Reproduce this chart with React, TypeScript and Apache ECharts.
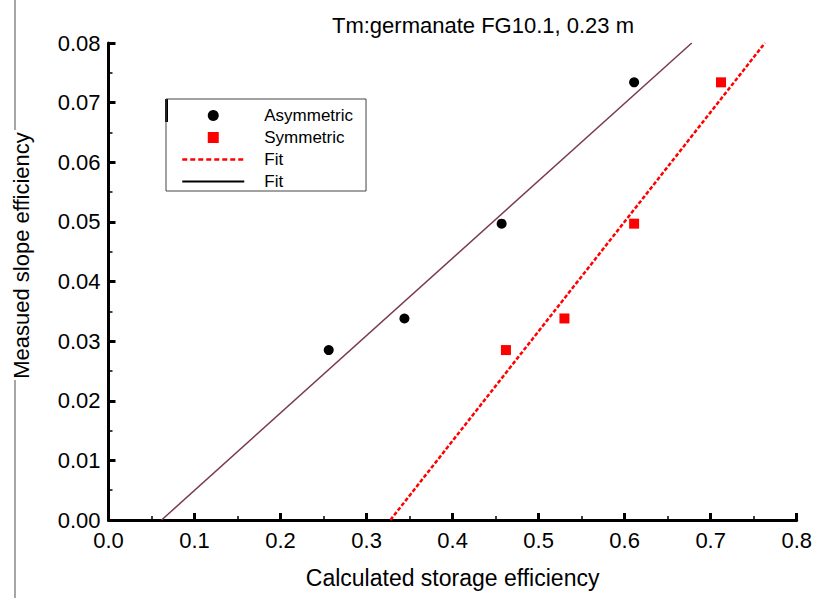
import React, { useEffect, useRef } from "react";
import * as echarts from "echarts";

const asymX = [0.256, 0.344, 0.457, 0.611];
const asymY = [0.0285, 0.0338, 0.0497, 0.0734];
const symX = [0.462, 0.53, 0.611, 0.712];
const symY = [0.0285, 0.0338, 0.0497, 0.0734];
const fitSymX = [0.3277, 0.763];
const fitSymY = [0, 0.08];
const fitAsymX = [0.0617, 0.678];
const fitAsymY = [0, 0.08];
const titleText = "Tm:germanate FG10.1, 0.23 m";
const xName = "Calculated storage efficiency";
const yName = "Measued slope efficiency";

const zip = (xs: number[], ys: number[]) => xs.map((x, i) => [x, ys[i]]);

export default function App() {
  const ref = useRef<HTMLDivElement>(null);
  useEffect(() => {
    if (!ref.current) return;
    const chart = echarts.init(ref.current, undefined, { renderer: "svg" });
    const font = "'Liberation Sans', Arial, sans-serif";
    const axisLine = { show: true, lineStyle: { color: "#000", width: 3 } };
    const axisTick = { show: true, inside: true, length: 7, lineStyle: { width: 3, color: "#000" } };
    const minorTick = { show: true, splitNumber: 2, length: 4, lineStyle: { color: "#000", width: 1.5 } };
    chart.setOption({
      animation: false,
      textStyle: { fontFamily: font },
      title: {
        text: titleText,
        left: 478,
        textAlign: "center",
        top: 9,
        textStyle: { fontSize: 22, fontWeight: "normal", color: "#000", fontFamily: font },
      },
      grid: { left: 108.5, right: 17, top: 43, bottom: 78 },
      legend: {
        orient: "vertical",
        left: 166,
        top: 99,
        padding: [8, 13, 1, 15],
        itemGap: 5,
        itemWidth: 62,
        itemHeight: 11,
        borderColor: "#444",
        borderWidth: 1,
        formatter: (n: string) => n.trim(),
        textStyle: { fontSize: 17, color: "#000", fontFamily: font, padding: [0, 0, 0, 15] },
        data: [
          { name: "Asymmetric", icon: "circle" },
          { name: "Symmetric", icon: "path://M0,0h10v10h-10z" },
          { name: "Fit", itemStyle: { opacity: 0 }, lineStyle: { color: "#ff0000", width: 2.5, type: [5, 3] } },
          { name: "Fit ", itemStyle: { opacity: 0 }, lineStyle: { color: "#000", width: 2 } },
        ],
      },
      xAxis: {
        type: "value",
        min: 0,
        max: 0.8,
        interval: 0.1,
        name: xName,
        nameLocation: "middle",
        nameGap: 46,
        nameTextStyle: { fontSize: 23, color: "#000", fontFamily: font },
        axisLabel: { fontSize: 22, color: "#000", margin: 9, formatter: (v: number) => v.toFixed(1), fontFamily: font },
        axisLine,
        axisTick,
        minorTick,
        splitLine: { show: false },
      },
      yAxis: {
        type: "value",
        min: 0,
        max: 0.08,
        interval: 0.01,
        name: yName,
        nameLocation: "middle",
        nameGap: 76,
        nameTextStyle: { fontSize: 22, color: "#000", fontFamily: font, padding: [0, 0, 0, 52] },
        axisLabel: { fontSize: 22, color: "#000", margin: 8, formatter: (v: number) => v.toFixed(2), fontFamily: font },
        axisLine,
        axisTick,
        minorTick,
        splitLine: { show: false },
      },
      graphic: [
        { type: "line", shape: { x1: 15, y1: 0, x2: 15, y2: 130 }, style: { stroke: "#888", lineWidth: 1.5 } },
        { type: "line", shape: { x1: 15, y1: 380, x2: 15, y2: 598 }, style: { stroke: "#888", lineWidth: 1.5 } },
        { type: "rect", shape: { x: 165, y: 99, width: 3, height: 23 }, style: { fill: "#000" } },
      ],
      series: [
        {
          name: "Fit ",
          type: "line",
          data: zip(fitAsymX, fitAsymY),
          symbol: "none",
          lineStyle: { color: "#7a3b4b", width: 1.5 },
          itemStyle: { color: "#000" },
        },
        {
          name: "Fit",
          type: "line",
          data: zip(fitSymX, fitSymY),
          symbol: "none",
          lineStyle: { color: "#ff0000", width: 2.5, type: [4, 2] },
          itemStyle: { color: "#ff0000" },
        },
        {
          name: "Asymmetric",
          type: "scatter",
          data: zip(asymX, asymY),
          symbol: "circle",
          symbolSize: 10,
          itemStyle: { color: "#000", opacity: 1 },
        },
        {
          name: "Symmetric",
          type: "scatter",
          data: zip(symX, symY),
          symbol: "rect",
          symbolSize: 10,
          symbolKeepAspect: true,
          itemStyle: { color: "#ff0000", opacity: 1 },
        },
      ],
    });
    return () => chart.dispose();
  }, []);
  return <div ref={ref} style={{ width: 815, height: 598, position: "absolute", left: 0, top: 0 }} />;
}
